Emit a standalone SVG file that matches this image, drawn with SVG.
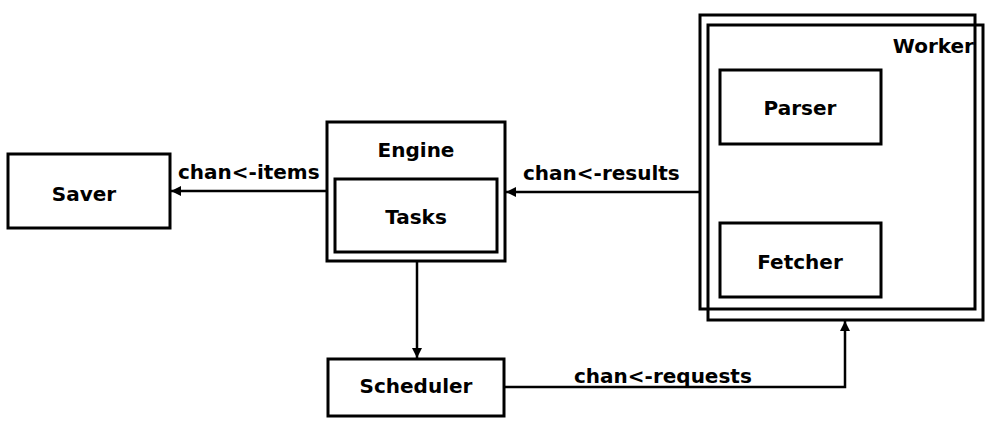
<svg xmlns="http://www.w3.org/2000/svg" width="1000" height="428" viewBox="0 0 1000 428">
<style>
.box{fill:#fff;stroke:#000;stroke-width:3}
.frame{fill:none;stroke:#000;stroke-width:3}
.t{font-family:"DejaVu Sans",sans-serif;font-weight:bold;font-size:20px;fill:#000}
.c{text-anchor:middle}
.e{fill:none;stroke:#000;stroke-width:2.5}
</style>
<defs>
<marker id="ah" viewBox="0 0 10 10" refX="10" refY="5" markerWidth="11" markerHeight="10" markerUnits="userSpaceOnUse" orient="auto">
<path d="M0,0 L10,5 L0,10 Z" fill="#000"/>
</marker>
</defs>
<rect width="1000" height="428" fill="#fff"/>
<g id="worker">
<rect class="frame" x="700" y="15" width="275" height="294"/>
<rect class="frame" x="708" y="25" width="275" height="295"/>
<text class="t" x="974" y="53" text-anchor="end">Worker</text>
</g>
<g id="parser">
<rect class="box" x="720" y="70" width="161" height="74"/>
<text class="t c" x="800" y="115">Parser</text>
</g>
<g id="fetcher">
<rect class="box" x="720" y="223" width="161" height="74"/>
<text class="t c" x="800" y="269">Fetcher</text>
</g>
<g id="engine">
<rect class="box" x="327" y="122" width="178" height="139"/>
<text class="t c" x="416" y="157">Engine</text>
</g>
<g id="tasks">
<rect class="box" x="335" y="179" width="162" height="73"/>
<text class="t c" x="416" y="224">Tasks</text>
</g>
<g id="saver">
<rect class="box" x="8" y="154" width="162" height="74"/>
<text class="t c" x="84" y="201">Saver</text>
</g>
<g id="scheduler">
<rect class="box" x="328" y="359" width="176" height="57"/>
<text class="t c" x="416" y="393">Scheduler</text>
</g>
<g id="connectors">
<line class="e" x1="327" y1="191" x2="171" y2="191" marker-end="url(#ah)"/>
<line class="e" x1="700" y1="192" x2="506" y2="192" marker-end="url(#ah)"/>
<line class="e" x1="417" y1="261" x2="417" y2="358" marker-end="url(#ah)"/>
<polyline class="e" points="504,387 845,387 845,321" marker-end="url(#ah)"/>
<text class="t" x="178" y="179">chan&lt;-items</text>
<text class="t" x="523" y="180">chan&lt;-results</text>
<text class="t" x="574" y="383">chan&lt;-requests</text>
</g>
</svg>
